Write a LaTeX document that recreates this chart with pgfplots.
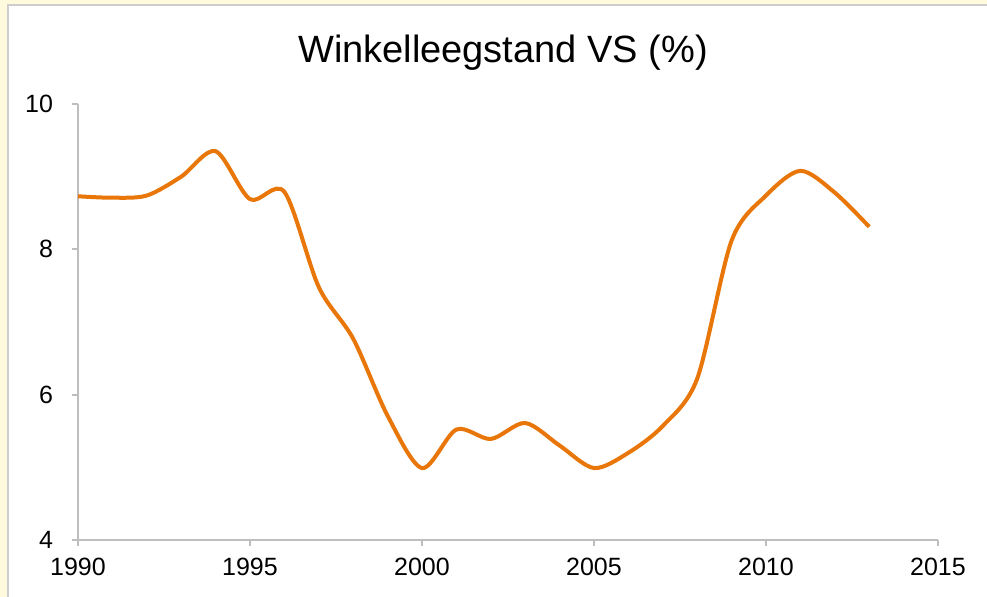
\documentclass[border=0pt]{standalone}
\usepackage{pgfplots}
\pgfplotsset{compat=1.18}
\usepackage{fontspec}
\setmainfont{Liberation Sans}
\definecolor{frameyellow}{RGB}{255,250,222}
\definecolor{framegray}{RGB}{205,205,205}
\definecolor{axisgray}{RGB}{190,190,190}
\definecolor{lineorange}{RGB}{232,118,8}
\begin{document}
\begin{tikzpicture}
% 1px = 0.5pt; picture is 987x597 px
\fill[frameyellow] (0pt,0pt) rectangle (493.5pt,298.5pt);
\fill[white] (4pt,0pt) rectangle (493.5pt,296pt);
\draw[framegray, line width=0.8pt] (4pt,0pt) -- (4pt,296pt) -- (493.5pt,296pt);
\node[anchor=base, font=\fontsize{19}{22}\selectfont] at (251.5pt,267pt) {Winkelleegstand VS (\%)};
\begin{axis}[
    at={(39pt,28.5pt)}, anchor=origin,
    scale only axis, width=430pt, height=218pt,
    xmin=1990, xmax=2015, ymin=4, ymax=10,
    xtick={1990,1995,...,2015}, ytick={4,6,8,10},
    axis lines*=left,
    axis line style={axisgray, line width=1pt},
    every tick/.style={axisgray, line width=1pt},
    tick align=outside, major tick length=3pt,
    xtick pos=bottom, ytick pos=left,
    tick label style={font=\fontsize{12.5}{14}\selectfont},
    /pgf/number format/assume math mode=true,
    /pgf/number format/1000 sep={},
    xticklabel style={yshift=-2.5pt},
    yticklabel style={xshift=-6pt},
    clip=false,
]
\addplot[lineorange, line width=2pt, smooth, tension=0.5] coordinates {
    (1990,8.73) (1991,8.71) (1992,8.74) (1993,9.00) (1994,9.35)
    (1995,8.69) (1996,8.79) (1997,7.48) (1998,6.77) (1999,5.71)
    (2000,4.99) (2001,5.52) (2002,5.39) (2003,5.61) (2004,5.30)
    (2005,4.99) (2006,5.20) (2007,5.57) (2008,6.22) (2009,8.12)
    (2010,8.74) (2011,9.08) (2012,8.78) (2013,8.31)
};
\end{axis}
\pgfresetboundingbox
\path[use as bounding box] (0pt,0pt) rectangle (493.5pt,298.5pt);
\end{tikzpicture}
\end{document}
